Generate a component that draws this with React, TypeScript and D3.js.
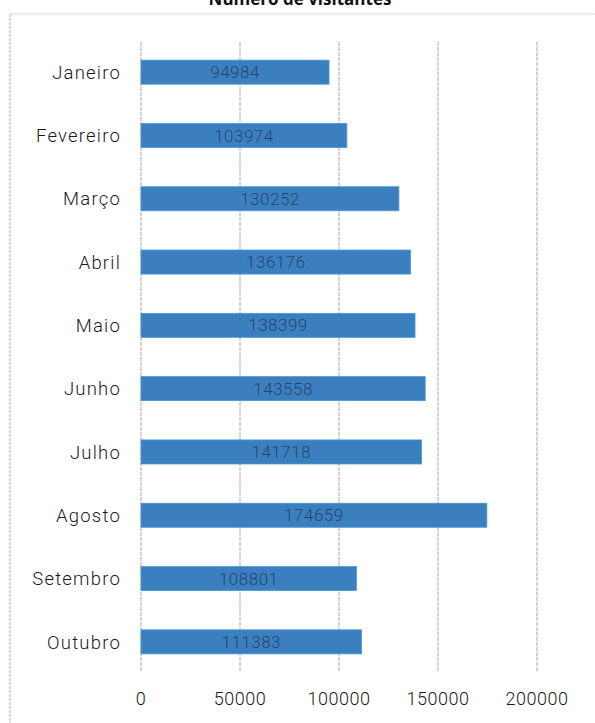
import React from "react";
import * as d3 from "d3";

const months = ["Janeiro", "Fevereiro", "Março", "Abril", "Maio", "Junho", "Julho", "Agosto", "Setembro", "Outubro"];
const visitors = [94984, 103974, 130252, 136176, 138399, 143558, 141718, 174659, 108801, 111383];
const ticks = [0, 50000, 100000, 150000, 200000];
const title = "Número de visitantes";

const W = 595;
const H = 723;
const FONT = "Roboto, 'DejaVu Sans', sans-serif";

export default function App() {
  const x = d3.scaleLinear().domain([0, 200000]).range([141, 537]);
  const y = d3.scaleBand().domain(months).range([40.5, 673.5]).paddingInner(0.62).paddingOuter(0.31);
  const gridTop = 42;
  const gridBottom = 672;

  return (
    <svg width={W} height={H} style={{ position: "absolute", left: 0, top: 0, background: "#fff" }}>
      <text x={300} y={5} textAnchor="middle" fontFamily="'Open Sans', 'DejaVu Sans', sans-serif" fontWeight="bold" fontSize={17} fill="#111">{title}</text>
      <line x1={10} x2={W} y1={14} y2={14} stroke="#cfcfcf" strokeWidth={1} strokeDasharray="3,1" />
      <line x1={10} x2={10} y1={14} y2={H} stroke="#b5b5b5" strokeWidth={1} strokeDasharray="3,1" />
      {ticks.map((t) => (
        <g key={t}>
          <line x1={x(t)} x2={x(t)} y1={gridTop} y2={gridBottom} stroke="#a8a8a8" strokeWidth={1} strokeDasharray="4,1" />
          <text x={x(t)} y={705} textAnchor="middle" fontFamily={FONT} fontWeight={300} fontSize={18} letterSpacing={0.5} fill="#1a1a1a">{t}</text>
        </g>
      ))}
      {months.map((m, i) => {
        const y0 = y(m) as number;
        const bw = y.bandwidth();
        return (
          <g key={m}>
            <rect x={x(0)} y={y0} width={x(visitors[i]) - x(0)} height={bw} fill="#3b7fbf" stroke="#4a9ad6" strokeWidth={0.8} />
            <text x={(x(0) + x(visitors[i])) / 2} y={y0 + bw / 2} dy="0.36em" textAnchor="middle" fontFamily={FONT} fontWeight={300} fontSize={17} letterSpacing={0.5} fill="#1d3a5e" fillOpacity={0.85}>{visitors[i]}</text>
            <text x={121} y={y0 + bw / 2} dy="0.36em" textAnchor="end" fontFamily={FONT} fontWeight={300} fontSize={18.5} letterSpacing={1.2} fill="#1a1a1a">{m}</text>
          </g>
        );
      })}
    </svg>
  );
}
